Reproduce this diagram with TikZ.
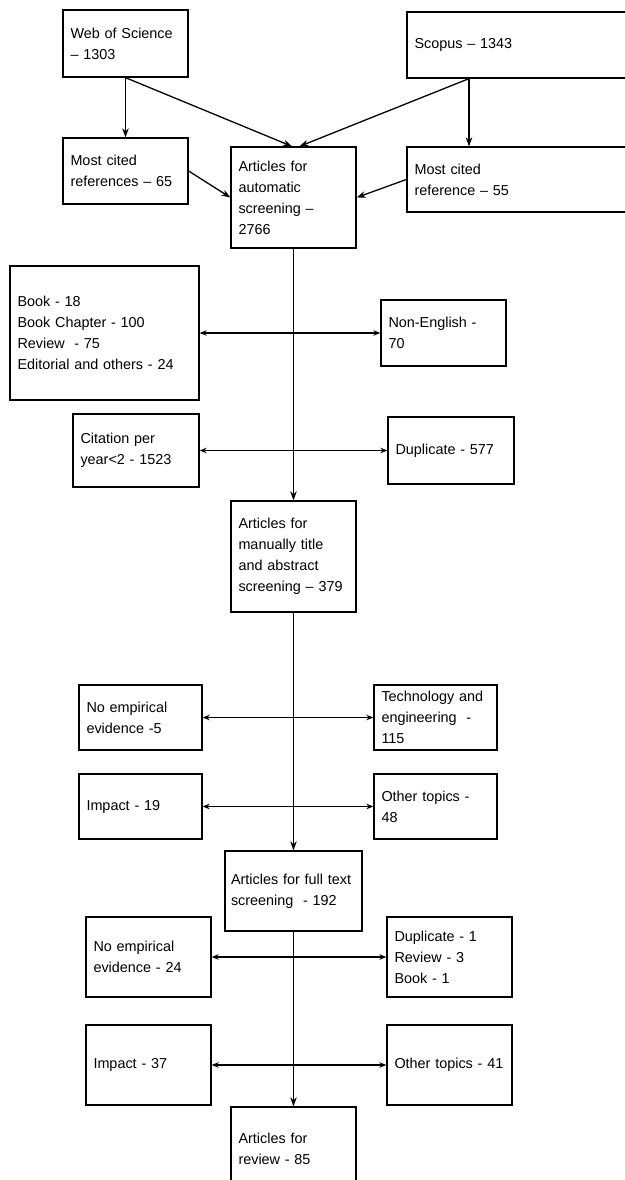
\documentclass[tikz,border=0pt]{standalone}
\usepackage{fontspec}
\setmainfont{Liberation Sans}
\usetikzlibrary{arrows.meta}
\begin{document}
\begin{tikzpicture}[x=1pt,y=-1pt,
    box/.style={draw, line width=1.3pt, align=left, inner xsep=7.5pt, inner ysep=0pt,
      font=\fontsize{14.4pt}{21pt}\selectfont},
    wd/.code={\pgfmathsetmacro\boxtw{#1-15}%
      \edef\boxset{\noexpand\tikzset{minimum width=#1pt, text width=\boxtw pt}}\boxset},
    ht/.style={minimum height=#1pt},
    flow/.style={line width=1.3pt, -{Stealth[length=9pt,width=6.5pt]}},
    side/.style={line width=1.2pt, {Stealth[length=7pt,width=5.5pt]}-{Stealth[length=7pt,width=5.5pt]}}]
  \useasboundingbox (0,0) rectangle (624,1180);
  % sources
  \node[box, wd=125, ht=67] (wos) at (125.5,43.5) {Web of Science\\– 1303};
  \node[box, wd=222, ht=66] (scopus) at (518,45) {Scopus – 1343};
  \node[box, wd=125, ht=66] (mcl) at (125.5,171) {Most cited\\references – 65};
  \node[box, wd=222, ht=65] (mcr) at (518,179.5) {Most cited\\reference – 55};
  \node[box, wd=125, ht=101] (auto) at (293.5,197.5) {Articles for\\automatic\\screening –\\2766};
  % automatic screening
  \node[box, wd=189, ht=134] (excl) at (104.5,333) {Book - 18\\Book Chapter - 100\\Review\ \ - 75\\Editorial and others - 24};
  \node[box, wd=125, ht=66] (nonen) at (443.5,333) {Non-English -\\70};
  \node[box, wd=126, ht=73] (cite) at (136,450.5) {Citation per\\year<2 - 1523};
  \node[box, wd=126, ht=67] (dup) at (451,450.5) {Duplicate - 577};
  \node[box, wd=125, ht=111] (manual) at (293.5,556.5) {Articles for\\manually title\\and abstract\\screening – 379};
  % title and abstract screening
  \node[box, wd=123, ht=65] (noemp) at (140.5,717.5) {No empirical\\evidence -5};
  \node[box, wd=123, ht=65] (tech) at (435.5,717.5) {Technology and\\engineering\ \ -\\115};
  \node[box, wd=123, ht=65] (imp) at (140.5,806.5) {Impact - 19};
  \node[box, wd=123, ht=65] (oth) at (435.5,806.5) {Other topics -\\48};
  \node[box, wd=137, ht=80, inner xsep=6pt, text width=125pt] (full) at (293.5,891) {Articles for full text\\screening\ \ - 192};
  % full text screening
  \node[box, wd=125, ht=80] (noempb) at (148.5,957) {No empirical\\evidence - 24};
  \node[box, wd=125, ht=80] (dupb) at (449.5,957) {Duplicate - 1\\Review - 3\\Book - 1};
  \node[box, wd=125, ht=80] (impb) at (148.5,1065) {Impact - 37};
  \node[box, wd=125, ht=80] (othb) at (449.5,1065) {Other topics - 41};
  \node[box, wd=125, ht=83] (review) at (293.5,1148.5) {Articles for\\review - 85};

  \draw[flow] (wos.south) -- (mcl.north);
  \draw[flow] (wos.south) -- ([xshift=-1.5pt]auto.north);
  \draw[flow] ([xshift=-49pt]scopus.south) -- ([xshift=-49pt]mcr.north);
  \draw[flow] ([xshift=-49pt]scopus.south) -- ([xshift=6pt]auto.north);
  \draw[flow] (mcl.east) -- (auto.west);
  \draw[flow] (mcr.west) -- (auto.east);
  \draw[flow] (auto) -- (manual);
  \draw[flow] (manual) -- (full);
  \draw[flow] (full) -- (review);
  \foreach \l/\r in {excl/nonen, cite/dup, noemp/tech, imp/oth, noempb/dupb, impb/othb}
    \draw[side] (\l.east) -- (\r.west);
\end{tikzpicture}
\end{document}
